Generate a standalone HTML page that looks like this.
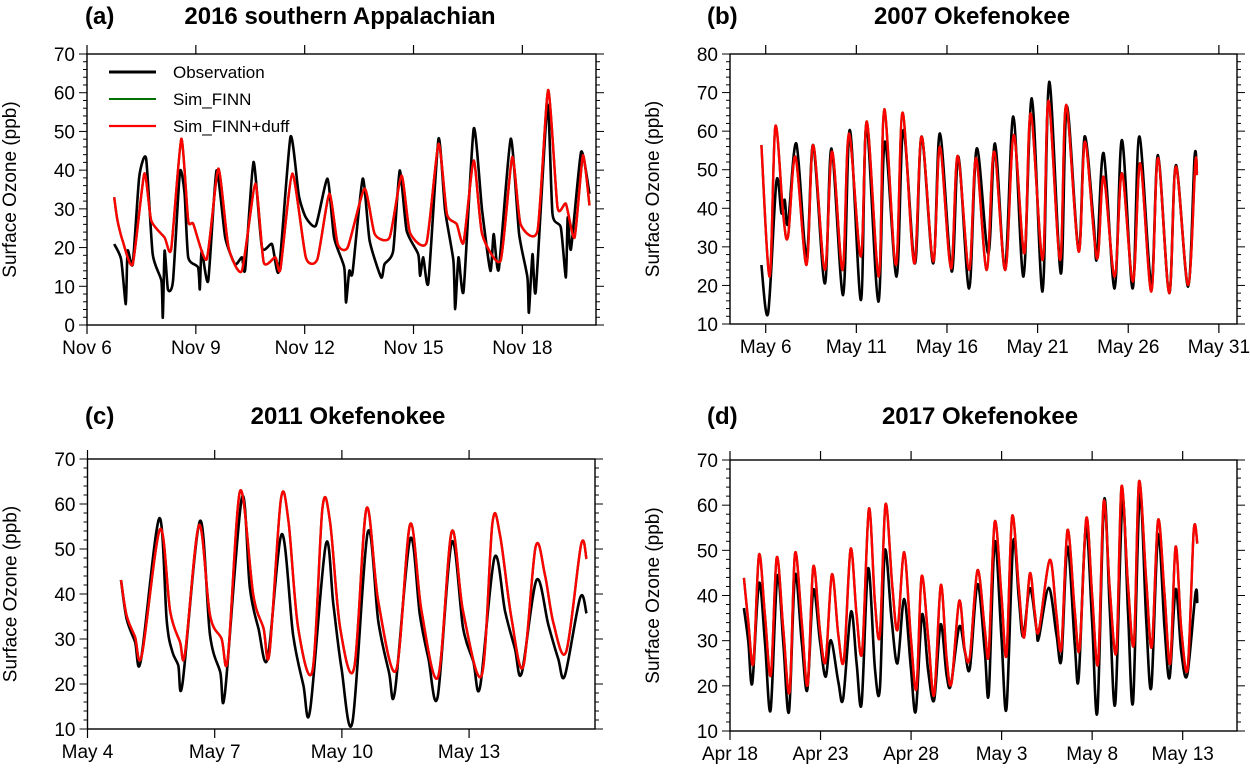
<!DOCTYPE html>
<html><head><meta charset="utf-8"><style>
html,body{margin:0;padding:0;background:#fff;}
svg{display:block;font-family:"Liberation Sans",sans-serif;}
</style></head><body>
<svg id="fig" width="1250" height="780" viewBox="0 0 1250 780"></svg>
<script>
// ---------- DATA (day offset, ppb) ----------
const obsA = [[0.75,20.9],[0.94,17.0],[1.07,5.4],[1.12,19.2],[1.26,15.7],[1.44,38.2],[1.63,43.0],[1.81,18.3],[2.05,11.4],[2.09,1.9],[2.14,19.2],[2.23,9.2],[2.37,11.4],[2.56,39.5],[2.69,33.9],[2.79,17.5],[3.06,14.9],[3.11,9.2],[3.16,19.2],[3.34,11.4],[3.57,39.9],[3.81,22.6],[4.08,15.7],[4.27,17.5],[4.36,14.4],[4.59,42.1],[4.82,20.1],[5.10,20.9],[5.29,14.0],[5.61,48.6],[5.84,33.4],[6.03,27.8],[6.31,25.7],[6.63,37.8],[6.81,22.6],[7.09,14.9],[7.14,5.8],[7.23,14.0],[7.32,13.6],[7.60,37.8],[7.79,21.8],[8.11,12.3],[8.20,15.7],[8.44,19.2],[8.62,39.9],[8.81,24.4],[9.13,18.3],[9.18,12.7],[9.27,17.5],[9.41,11.0],[9.69,48.1],[9.87,29.6],[10.10,16.6],[10.15,4.1],[10.24,17.5],[10.38,8.8],[10.66,50.7],[10.89,29.6],[11.12,14.0],[11.21,23.5],[11.35,14.4],[11.68,48.1],[11.91,23.5],[12.14,12.3],[12.18,3.2],[12.28,18.3],[12.37,8.8],[12.69,56.8],[12.83,28.7],[13.06,25.2],[13.20,12.3],[13.25,27.8],[13.34,19.6],[13.62,44.7],[13.85,33.9]];
const duffA = [[0.75,33.0],[0.84,27.0],[0.98,21.8],[1.26,15.7],[1.58,39.1],[1.77,27.0],[2.14,22.6],[2.32,19.6],[2.60,48.1],[2.79,27.0],[2.93,26.1],[3.30,17.0],[3.62,40.4],[3.90,20.1],[4.27,14.0],[4.64,36.5],[4.87,16.2],[5.19,17.5],[5.33,14.4],[5.66,39.1],[6.03,17.5],[6.35,17.0],[6.68,33.9],[6.91,20.9],[7.19,20.1],[7.65,35.2],[7.93,23.5],[8.34,22.6],[8.67,38.6],[8.90,23.9],[9.36,21.3],[9.69,46.8],[9.92,28.7],[10.19,26.1],[10.38,21.3],[10.66,42.5],[10.89,23.5],[11.40,16.6],[11.72,43.4],[11.95,26.1],[12.42,24.4],[12.71,60.7],[12.97,30.4],[13.20,31.3],[13.44,22.6],[13.67,43.8],[13.85,30.9]];
const finnA = duffA;
const obsB = [[5.76,25.3],[6.13,12.8],[6.59,46.9],[6.87,38.7],[7.05,42.2],[7.23,36.1],[7.69,56.8],[8.25,27.5],[8.62,56.4],[9.26,20.5],[9.63,55.5],[10.27,17.5],[10.64,60.3],[11.25,16.2],[11.56,61.6],[12.21,15.8],[12.57,57.3],[13.22,22.3],[13.59,60.3],[14.23,25.7],[14.60,58.6],[15.24,25.7],[15.61,59.4],[16.26,23.6],[16.63,53.4],[17.22,19.2],[17.64,55.5],[18.28,28.3],[18.65,56.8],[19.20,24.4],[19.66,63.8],[20.22,22.3],[20.68,68.5],[21.27,18.4],[21.64,72.8],[22.28,23.1],[22.61,66.4],[23.26,29.2],[23.59,58.6],[24.08,37.0],[24.27,27.0],[24.64,54.3],[25.25,19.2],[25.65,57.7],[26.24,19.2],[26.61,58.6],[27.27,20.5],[27.64,53.8],[28.26,18.0],[28.63,51.2],[29.30,19.7],[29.66,53.4],[29.79,49.1]];
const duffB = [[5.76,56.4],[6.22,22.3],[6.53,61.2],[6.96,38.7],[7.23,32.6],[7.64,53.4],[8.25,25.3],[8.62,56.4],[9.26,24.0],[9.66,54.7],[10.24,24.0],[10.59,59.4],[11.25,27.5],[11.58,62.5],[12.24,22.3],[12.54,65.7],[13.18,25.3],[13.55,64.8],[14.19,25.7],[14.60,58.6],[15.24,26.2],[15.61,56.0],[16.22,24.4],[16.59,53.6],[17.22,24.0],[17.60,53.0],[18.19,24.0],[18.60,54.7],[19.22,24.0],[19.68,59.0],[20.27,28.3],[20.62,64.6],[21.28,26.6],[21.60,67.9],[22.24,26.6],[22.57,66.8],[23.26,28.8],[23.62,57.3],[24.27,27.0],[24.64,48.2],[25.25,22.3],[25.65,49.1],[26.26,21.0],[26.66,51.7],[27.27,18.4],[27.64,53.0],[28.26,18.0],[28.63,50.8],[29.30,20.1],[29.70,51.7],[29.79,48.6]];
const finnB = duffB;
const obsC = [[0.79,43.1],[0.92,34.6],[1.12,29.4],[1.26,25.3],[1.69,56.8],[1.87,33.9],[2.0,27.2],[2.14,24.2],[2.24,20.1],[2.65,56.2],[2.89,30.9],[3.13,22.7],[3.24,17.9],[3.64,61.3],[3.83,41.3],[4.03,32.4],[4.25,25.7],[4.58,53.3],[4.85,30.9],[5.09,19.8],[5.25,14.2],[5.62,51.0],[5.80,37.6],[5.99,23.5],[6.25,11.6],[6.61,53.7],[6.86,33.9],[7.11,22.7],[7.25,18.3],[7.61,52.2],[7.84,35.3],[8.04,25.7],[8.26,17.2],[8.59,51.5],[8.86,32.4],[9.10,25.0],[9.26,19.4],[9.60,48.1],[9.85,36.1],[10.08,27.9],[10.24,22.4],[10.59,43.1],[10.87,33.1],[11.10,25.7],[11.26,21.9],[11.62,39.2],[11.77,35.7]];
const duffC = [[0.79,43.1],[0.92,35.3],[1.12,30.5],[1.28,26.4],[1.71,54.4],[1.95,36.1],[2.18,29.4],[2.30,26.8],[2.63,55.3],[2.89,35.3],[3.16,30.1],[3.31,25.7],[3.60,62.9],[3.91,39.8],[4.15,32.4],[4.29,26.8],[4.56,60.9],[4.74,56.1],[4.97,32.4],[5.31,23.1],[5.54,59.0],[5.72,56.1],[5.96,32.4],[6.29,23.6],[6.58,59.0],[6.86,38.3],[7.28,23.1],[7.61,55.5],[7.88,36.1],[8.27,21.6],[8.59,53.9],[8.86,36.1],[9.30,22.0],[9.55,55.7],[9.73,53.1],[10.0,34.6],[10.28,23.9],[10.57,50.5],[10.79,44.2],[10.99,33.5],[11.29,27.2],[11.64,50.9],[11.77,47.8]];
const finnC = duffC;
const obsD = [[0.77,37.2],[1.01,29.8],[1.23,20.6],[1.60,42.7],[1.93,29.8],[2.24,14.6],[2.61,44.2],[2.94,29.8],[3.26,14.3],[3.59,44.5],[3.96,29.8],[4.27,19.1],[4.60,41.2],[4.97,29.8],[5.28,22.0],[5.57,30.1],[5.98,20.9],[6.25,17.2],[6.68,36.4],[6.99,25.0],[7.27,16.1],[7.63,46.0],[8.0,23.9],[8.28,19.4],[8.55,49.9],[8.92,34.9],[9.25,25.0],[9.62,39.2],[9.99,23.9],[10.26,14.4],[10.61,35.8],[10.95,23.1],[11.28,16.9],[11.63,33.6],[11.96,22.4],[12.20,20.2],[12.66,33.1],[12.97,27.6],[13.25,23.9],[13.67,42.5],[14.07,27.6],[14.29,18.3],[14.62,51.9],[14.99,30.9],[15.27,15.0],[15.64,51.8],[15.95,39.4],[16.19,30.9],[16.56,41.6],[16.92,32.7],[17.05,30.5],[17.60,41.7],[18.03,31.3],[18.30,25.9],[18.64,50.8],[19.04,29.0],[19.26,21.8],[19.65,55.0],[20.0,34.2],[20.29,14.3],[20.66,61.1],[20.97,37.2],[21.28,16.1],[21.67,60.8],[21.98,36.4],[22.26,16.5],[22.63,62.3],[22.99,34.2],[23.27,19.8],[23.64,53.4],[24.0,32.7],[24.28,21.8],[24.61,41.4],[24.92,27.6],[25.25,22.4],[25.71,40.5],[25.81,38.3]];
const duffD = [[0.77,43.9],[1.01,34.2],[1.29,25.0],[1.60,49.0],[1.93,35.7],[2.26,22.4],[2.58,48.4],[2.94,32.7],[3.29,18.7],[3.59,49.3],[3.96,34.2],[4.29,20.2],[4.60,46.4],[4.97,32.0],[5.28,25.4],[5.63,44.7],[5.98,31.3],[6.29,25.7],[6.66,50.3],[6.99,35.7],[7.30,27.6],[7.67,59.2],[8.0,38.6],[8.28,31.3],[8.59,60.2],[8.96,42.3],[9.25,32.4],[9.62,49.6],[9.99,30.5],[10.30,19.4],[10.58,44.2],[10.95,30.5],[11.28,18.0],[11.64,42.3],[11.96,26.1],[12.23,20.6],[12.66,38.8],[12.97,27.9],[13.25,26.5],[13.67,45.6],[14.07,32.4],[14.29,27.2],[14.62,56.3],[14.99,40.1],[15.27,26.8],[15.58,57.5],[15.95,41.6],[16.24,30.7],[16.56,44.9],[16.83,36.4],[17.05,32.0],[17.66,47.9],[18.03,35.7],[18.30,28.3],[18.64,54.5],[19.04,36.4],[19.31,28.3],[19.68,57.1],[20.0,40.1],[20.33,25.0],[20.64,60.8],[20.97,41.6],[21.34,27.6],[21.62,64.1],[21.98,42.3],[22.31,29.4],[22.59,65.2],[22.99,43.1],[23.30,28.7],[23.64,56.7],[24.0,40.1],[24.31,25.0],[24.61,50.8],[24.92,32.7],[25.28,23.9],[25.61,54.3],[25.81,51.5]];
const finnD = duffD;

const xTicksA = [0,3,6,9,12];   const xLabelsA = ["Nov 6","Nov 9","Nov 12","Nov 15","Nov 18"];
const xTicksB = [6,11,16,21,26,31]; const xLabelsB = ["May 6","May 11","May 16","May 21","May 26","May 31"];
const xTicksC = [0,3,6,9];      const xLabelsC = ["May 4","May 7","May 10","May 13"];
const xTicksD = [0,5,10,15,20,25]; const xLabelsD = ["Apr 18","Apr 23","Apr 28","May 3","May 8","May 13"];
const yTicksA = [0,10,20,30,40,50,60,70];
const yTicksB = [10,20,30,40,50,60,70,80];
const yTicksC = [10,20,30,40,50,60,70];
const yTicksD = [10,20,30,40,50,60,70];

const NS = "http://www.w3.org/2000/svg";
const svg = document.getElementById('fig');
function mk(tag, attrs, parent){const e=document.createElementNS(NS,tag);for(const k in attrs)e.setAttribute(k,attrs[k]);(parent||svg).appendChild(e);return e;}

function smoothPath(pts, sx, sy, t){
  const P = pts.map(p=>[sx(p[0]),sy(p[1])]);
  let d = "M"+P[0][0].toFixed(1)+","+P[0][1].toFixed(1);
  for(let i=0;i<P.length-1;i++){
    const p0=P[Math.max(0,i-1)],p1=P[i],p2=P[i+1],p3=P[Math.min(P.length-1,i+2)];
    const c1=[p1[0]+(p2[0]-p0[0])*t,p1[1]+(p2[1]-p0[1])*t];
    const c2=[p2[0]-(p3[0]-p1[0])*t,p2[1]-(p3[1]-p1[1])*t];
    d+=" C"+c1[0].toFixed(1)+","+c1[1].toFixed(1)+" "+c2[0].toFixed(1)+","+c2[1].toFixed(1)+" "+p2[0].toFixed(1)+","+p2[1].toFixed(1);
  }
  return d;
}

function panel(o){
  const g = mk('g',{});
  
  
  const sx = v => o.x0 + (v-o.xmin)/(o.xmax-o.xmin)*(o.x1-o.x0);
  const sy = v => o.y1 - (v-o.ymin)/(o.ymax-o.ymin)*(o.y1-o.y0);
  const tl = mk('text',{x:o.lx,y:o.ty,'font-size':24,'font-weight':'bold'},g); tl.textContent=o.letter;
   
  const tt = mk('text',{x:o.tx,y:o.ty,'font-size':24,'font-weight':'bold','text-anchor':'middle'},g); tt.textContent=o.title;
   
  const yt = mk('text',{x:0,y:0,'font-size':19,'text-anchor':'middle',transform:`translate(${o.x0-71},${(o.y0+o.y1)/2}) rotate(-90)`},g);
  yt.textContent="Surface Ozone (ppb)";
   
  for(let v=o.ymin; v<=o.ymax+0.01; v+=2){
    const major = Math.abs(v%10)<0.01;
    const L = major?8:4;
    mk('line',{x1:o.x0-L,x2:o.x0,y1:sy(v),y2:sy(v),stroke:'#000','stroke-width':1},g);
    mk('line',{x1:o.x1,x2:o.x1+L,y1:sy(v),y2:sy(v),stroke:'#000','stroke-width':1},g);
  }
  o.yt.forEach(v=>{
    const t=mk('text',{x:o.x0-12,y:sy(v)+7,'font-size':19,'text-anchor':'end'},g); t.textContent=v;
     
  });
  o.xt.forEach((v,i)=>{
    mk('line',{x1:sx(v),x2:sx(v),y1:o.y1,y2:o.y1+9,stroke:'#000','stroke-width':1.2},g);
    mk('line',{x1:sx(v),x2:sx(v),y1:o.y0-9,y2:o.y0,stroke:'#000','stroke-width':1.2},g);
    const t=mk('text',{x:sx(v),y:o.y1+29,'font-size':19,'text-anchor':'middle'},g); t.textContent=o.xl[i];
     
  });
  const cp = mk('clipPath',{id:'clip'+o.letter[1]},g);
  mk('rect',{x:o.x0,y:o.y0,width:o.x1-o.x0,height:o.y1-o.y0},cp);
  const lo = mk('path',{d:smoothPath(o.obs,sx,sy,o.t),fill:'none',stroke:'#000','stroke-width':2.6,'stroke-linejoin':'round','clip-path':`url(#clip${o.letter[1]})`},g);
   
  const lf = mk('path',{d:smoothPath(o.finn,sx,sy,o.t),fill:'none',stroke:'#007000','stroke-width':2.4,'stroke-linejoin':'round','clip-path':`url(#clip${o.letter[1]})`},g);
   
  const ld = mk('path',{d:smoothPath(o.duff,sx,sy,o.t),fill:'none',stroke:'#ff0000','stroke-width':2.4,'stroke-linejoin':'round','clip-path':`url(#clip${o.letter[1]})`},g);
   
  const fr = mk('rect',{x:o.x0,y:o.y0,width:o.x1-o.x0,height:o.y1-o.y0,fill:'none',stroke:'#000','stroke-width':1.4},g);
   
  return g;
}

panel({name:'panel-a',letter:'(a)',title:'2016 southern Appalachian',lx:85,tx:340,ty:24,x0:87,x1:596,y0:54,y1:325,xmin:0,xmax:14.03,ymin:0,ymax:70,yt:yTicksA,xt:xTicksA,xl:xLabelsA,obs:obsA,duff:duffA,finn:finnA,t:0.1});
panel({name:'panel-b',letter:'(b)',title:'2007 Okefenokee',lx:707,tx:972,ty:24,x0:730,x1:1237,y0:54,y1:324,xmin:4.03,xmax:32.0,ymin:10,ymax:80,yt:yTicksB,xt:xTicksB,xl:xLabelsB,obs:obsB,duff:duffB,finn:finnB,t:0.16});
panel({name:'panel-c',letter:'(c)',title:'2011 Okefenokee',lx:85,tx:348,ty:424,x0:87.5,x1:595,y0:459,y1:729,xmin:0,xmax:11.97,ymin:10,ymax:70,yt:yTicksC,xt:xTicksC,xl:xLabelsC,obs:obsC,duff:duffC,finn:finnC,t:0.16});
panel({name:'panel-d',letter:'(d)',title:'2017 Okefenokee',lx:707,tx:980,ty:424,x0:730,x1:1237,y0:460,y1:731,xmin:0,xmax:28.0,ymin:10,ymax:70,yt:yTicksD,xt:xTicksD,xl:xLabelsD,obs:obsD,duff:duffD,finn:finnD,t:0.16});

const leg = mk('g',{});


const legItems = [["Observation","#000",3],["Sim_FINN","#007000",2],["Sim_FINN+duff","#ff0000",2.2]];
legItems.forEach((it,i)=>{
  const y = 72 + i*27;
  mk('line',{x1:109,x2:156,y1:y,y2:y,stroke:it[1],'stroke-width':it[2]},leg);
  const t = mk('text',{x:173,y:y+6,'font-size':17},leg); t.textContent=it[0];
  
  
});
</script>
</body></html>
